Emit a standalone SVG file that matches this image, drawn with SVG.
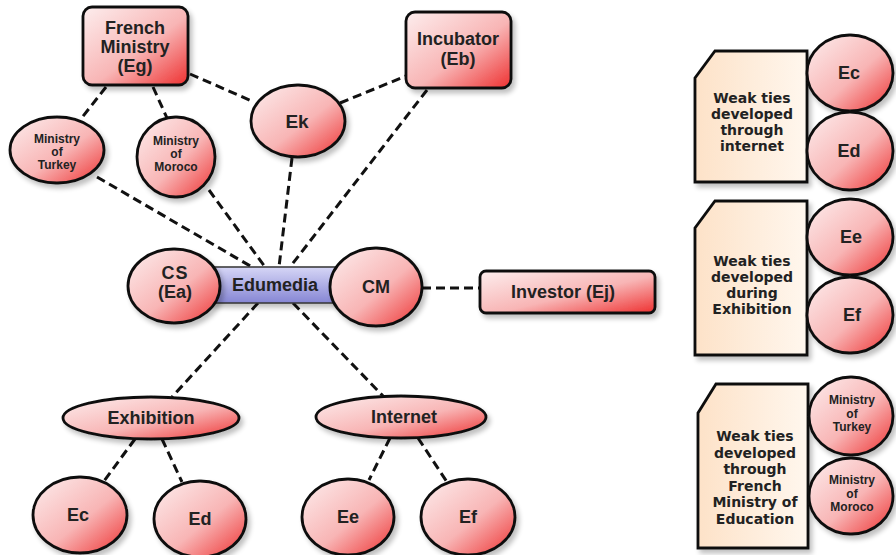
<svg xmlns="http://www.w3.org/2000/svg" width="896" height="555" viewBox="0 0 896 555">
<defs>
  <linearGradient id="pink" x1="0" y1="0" x2="1" y2="1">
    <stop offset="0" stop-color="#fdeeee"/>
    <stop offset="0.55" stop-color="#f8b5b5"/>
    <stop offset="1" stop-color="#ee3030"/>
  </linearGradient>
  <linearGradient id="blue" x1="0" y1="0" x2="0" y2="1">
    <stop offset="0" stop-color="#d6d6f6"/>
    <stop offset="1" stop-color="#8686d4"/>
  </linearGradient>
  <linearGradient id="peach" x1="0" y1="0" x2="1" y2="0">
    <stop offset="0" stop-color="#fde2c8"/>
    <stop offset="1" stop-color="#fff7ee"/>
  </linearGradient>
  <filter id="sh" x="-20%" y="-20%" width="150%" height="150%">
    <feGaussianBlur in="SourceAlpha" stdDeviation="2.5"/>
    <feOffset dx="3" dy="4" result="b"/>
    <feComponentTransfer><feFuncA type="linear" slope="0.25"/></feComponentTransfer>
    <feMerge><feMergeNode/><feMergeNode in="SourceGraphic"/></feMerge>
  </filter>
  <style>
    .n{fill:url(#pink);stroke:#111;stroke-width:2.8;filter:url(#sh)}
    .pn{fill:url(#peach);stroke:#111;stroke-width:2.8;filter:url(#sh)}
    .edu{fill:url(#blue);stroke:#333;stroke-width:1.5;filter:url(#sh)}
    .c{stroke:#111;stroke-width:3;stroke-dasharray:9 5;fill:none}
    .t{font-family:"Liberation Sans",Arial,sans-serif;font-weight:bold;fill:#222;text-anchor:middle}
    .s{font-size:12px}
    .m{font-size:18px}
    .p{font-family:"DejaVu Sans","Liberation Sans",sans-serif;font-weight:bold;font-size:14px;fill:#222;text-anchor:middle}
  </style>
</defs>
<rect width="896" height="555" fill="#fff"/>

<g id="connectors">
  <line class="c" x1="106" y1="87" x2="80" y2="120"/>
  <line class="c" x1="153" y1="87" x2="167" y2="118"/>
  <line class="c" x1="190" y1="74" x2="254" y2="102"/>
  <line class="c" x1="340" y1="103" x2="406" y2="76"/>
  <line class="c" x1="427" y1="90" x2="290" y2="267"/>
  <line class="c" x1="292" y1="158" x2="279" y2="267"/>
  <line class="c" x1="97" y1="177" x2="252" y2="267"/>
  <line class="c" x1="209" y1="190" x2="265" y2="267"/>
  <line class="c" x1="258" y1="303" x2="172" y2="397"/>
  <line class="c" x1="293" y1="303" x2="384" y2="397"/>
  <line class="c" x1="135" y1="439" x2="104" y2="481"/>
  <line class="c" x1="162" y1="439" x2="182" y2="482"/>
  <line class="c" x1="390" y1="438" x2="369" y2="480"/>
  <line class="c" x1="418" y1="438" x2="447" y2="482"/>
  <line class="c" x1="422" y1="288" x2="480" y2="288"/>
</g>

<g id="french-ministry">
  <rect class="n" x="83" y="7" width="105" height="78" rx="9"/>
  <text class="t m" x="135" y="34">French<tspan x="135" dy="19">Ministry</tspan><tspan x="135" dy="19">(Eg)</tspan></text>
</g>
<g id="incubator">
  <rect class="n" x="406" y="12" width="105" height="76" rx="9"/>
  <text class="t m" x="458" y="45">Incubator<tspan x="458" dy="20">(Eb)</tspan></text>
</g>
<g id="ministry-turkey">
  <ellipse class="n" cx="57" cy="150" rx="47" ry="33"/>
  <text class="t s" x="57" y="143">Ministry<tspan x="57" dy="13">of</tspan><tspan x="57" dy="13">Turkey</tspan></text>
</g>
<g id="ministry-morocco">
  <ellipse class="n" cx="176" cy="157" rx="39" ry="40"/>
  <text class="t s" x="176" y="145">Ministry<tspan x="176" dy="13">of</tspan><tspan x="176" dy="13">Moroco</tspan></text>
</g>
<g id="ek">
  <ellipse class="n" cx="298" cy="121" rx="47" ry="36"/>
  <text class="t" style="font-size:19px" x="297" y="128">Ek</text>
</g>

<g id="edumedia">
  <rect class="edu" x="210" y="267" width="130" height="36"/>
  <text class="t m" x="275" y="291">Edumedia</text>
</g>
<g id="cs">
  <ellipse class="n" cx="174" cy="286" rx="46" ry="37"/>
  <text class="t m" x="175" y="279" letter-spacing="1">CS<tspan x="175" dy="19" letter-spacing="0">(Ea)</tspan></text>
</g>
<g id="cm">
  <ellipse class="n" cx="376" cy="287" rx="46" ry="39"/>
  <text class="t m" x="376" y="293">CM</text>
</g>
<g id="investor">
  <rect class="n" x="480" y="271" width="175" height="42" rx="6"/>
  <text class="t m" x="563" y="298">Investor (Ej)</text>
</g>

<g id="exhibition">
  <ellipse class="n" cx="151" cy="418" rx="88" ry="21"/>
  <text class="t m" x="151" y="424">Exhibition</text>
</g>
<g id="internet">
  <ellipse class="n" cx="401" cy="417" rx="85" ry="21"/>
  <text class="t m" x="404" y="423">Internet</text>
</g>
<g id="ec">
  <ellipse class="n" cx="80" cy="515" rx="47" ry="38"/>
  <text class="t m" x="78" y="521">Ec</text>
</g>
<g id="ed">
  <ellipse class="n" cx="200" cy="519" rx="46" ry="38"/>
  <text class="t m" x="200" y="525">Ed</text>
</g>
<g id="ee">
  <ellipse class="n" cx="348" cy="517" rx="46" ry="38"/>
  <text class="t m" x="348" y="523">Ee</text>
</g>
<g id="ef">
  <ellipse class="n" cx="468" cy="517" rx="47" ry="38"/>
  <text class="t m" x="468" y="523">Ef</text>
</g>

<g id="panel-internet">
  <path class="pn" d="M715 51H807V182H695V78Z"/>
  <text class="p" x="752" y="103">Weak ties<tspan x="752" dy="16">developed</tspan><tspan x="752" dy="16">through</tspan><tspan x="752" dy="16">internet</tspan></text>
</g>
<g id="panel-ec">
  <ellipse class="n" cx="850" cy="73" rx="43" ry="38"/>
  <text class="t m" x="849" y="79">Ec</text>
</g>
<g id="panel-ed">
  <ellipse class="n" cx="850" cy="151" rx="43" ry="39"/>
  <text class="t m" x="849" y="157">Ed</text>
</g>

<g id="panel-exhibition">
  <path class="pn" d="M715 201H807V355H695V228Z"/>
  <text class="p" x="752" y="266">Weak ties<tspan x="752" dy="16">developed</tspan><tspan x="752" dy="16">during</tspan><tspan x="752" dy="16">Exhibition</tspan></text>
</g>
<g id="panel-ee">
  <ellipse class="n" cx="850" cy="237" rx="43" ry="38"/>
  <text class="t m" x="851" y="243">Ee</text>
</g>
<g id="panel-ef">
  <ellipse class="n" cx="850" cy="315" rx="43" ry="38"/>
  <text class="t m" x="852" y="321">Ef</text>
</g>

<g id="panel-ministry">
  <path class="pn" d="M716 384H808V548H698V413Z"/>
  <text class="p" x="755" y="441">Weak ties<tspan x="755" dy="16.6">developed</tspan><tspan x="755" dy="16.6">through</tspan><tspan x="755" dy="16.6">French</tspan><tspan x="755" dy="16.6">Ministry of</tspan><tspan x="755" dy="16.6">Education</tspan></text>
</g>
<g id="panel-turkey">
  <ellipse class="n" cx="851" cy="416" rx="42" ry="39"/>
  <text class="t s" x="852" y="404">Ministry<tspan x="852" dy="13.5">of</tspan><tspan x="852" dy="13.5">Turkey</tspan></text>
</g>
<g id="panel-morocco">
  <ellipse class="n" cx="851" cy="496" rx="42" ry="38"/>
  <text class="t s" x="852" y="484">Ministry<tspan x="852" dy="13.5">of</tspan><tspan x="852" dy="13.5">Moroco</tspan></text>
</g>
</svg>
